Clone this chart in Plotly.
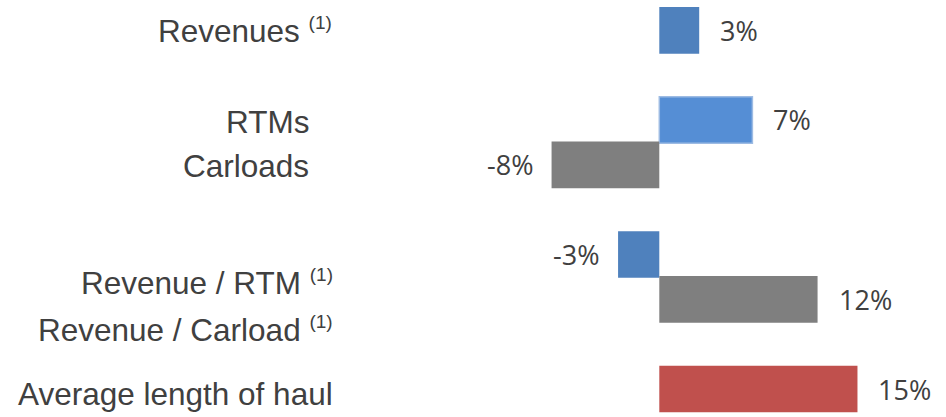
import plotly.graph_objects as go

# ---- data ----
categories = ["Revenues", "RTMs", "Carloads", "Revenue / RTM", "Revenue / Carload", "Average length of haul"]
footnote = [True, False, False, True, True, False]
changes = [3.0, 7.0, -8.1, -3.1, 11.9, 14.9]  # % change
# row order on the y axis (blank strings are spacer rows)
row_order = ["Revenues", " ", "RTMs", "Carloads", "  ", "Revenue / RTM", "Revenue / Carload", "   ", "Average length of haul"]

# ---- styles ----
bar_colors = {"Revenues": "#4F81BD", "RTMs": "#558ED5", "Carloads": "#7F7F7F",
              "Revenue / RTM": "#4F81BD", "Revenue / Carload": "#7F7F7F",
              "Average length of haul": "#C0504D"}
line_colors = {"RTMs": "#9DBBE3"}
# label placement: (right edge in px, vertical shift in px)
label_pos = {"Revenues": (334, 0), "RTMs": (311, -2), "Carloads": (311, -1),
             "Revenue / RTM": (335, -28), "Revenue / Carload": (335, -30),
             "Average length of haul": (335, -5)}

W, H = 946, 417
TEXT = "#404040"

fig = go.Figure(go.Bar(
    x=changes, y=categories, orientation="h", width=1.04,
    marker=dict(color=[bar_colors[c] for c in categories],
                line=dict(color=[line_colors.get(c, bar_colors[c]) for c in categories],
                          width=[1.5 if c in line_colors else 0 for c in categories])),
    hoverinfo="skip",
))

annotations = []
for c, v in zip(categories, changes):
    annotations.append(dict(
        x=v, y=c, xref="x", yref="y", text=f"{v:.0f}%", showarrow=False,
        xanchor="left" if v >= 0 else "right", xshift=19 if v >= 0 else -17,
        font=dict(family="Open Sans", size=27, color=TEXT)))
for c, f in zip(categories, footnote):
    px, dy = label_pos[c]
    txt = c + (" <sup><span style='font-size:19px'>(1)</span></sup>" if f else "")
    annotations.append(dict(
        x=px / W, y=c, xref="paper", yref="y", text=txt, showarrow=False,
        xanchor="right", yanchor="middle", yshift=dy,
        font=dict(family="Liberation Sans, Arial", size=31.5, color=TEXT)))

fig.update_layout(
    width=W, height=H, margin=dict(l=0, r=0, t=7.4, b=3.4),
    paper_bgcolor="white", plot_bgcolor="white", showlegend=False,
    xaxis=dict(range=[-659.3 / 13.3, (W - 659.3) / 13.3], visible=False, zeroline=False),
    yaxis=dict(categoryorder="array", categoryarray=row_order, autorange="reversed",
               range=[8.5, -0.5], visible=False),
    annotations=annotations,
)
fig.write_html("out.html", config={"displayModeBar": False},
               post_script="document.body.style.margin='0';")
